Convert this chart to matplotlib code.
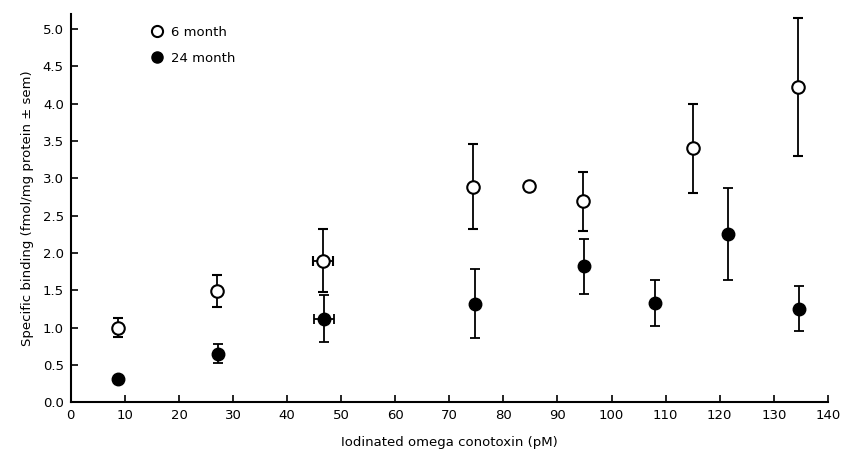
import numpy as np
import matplotlib
matplotlib.use("Agg")
import matplotlib.pyplot as plt
from matplotlib.lines import Line2D

# 6 month group
x_6 = [8.8, 27.0, 46.6, 74.3, 84.8, 94.7, 115.0, 134.4]
y_6 = [1.00, 1.49, 1.89, 2.89, 2.90, 2.70, 3.40, 4.22]
up_6 = [1.13, 1.71, 2.32, 3.46, 2.90, 3.09, 3.99, 5.15]
lo_6 = [0.87, 1.28, 1.47, 2.32, 2.90, 2.30, 2.80, 3.30]
xerr_6 = [0, 0, 1.9, 0, 0, 0, 0, 0]

# 24 month group
x_24 = [8.8, 27.3, 46.8, 74.8, 94.9, 108.0, 121.5, 134.7]
y_24 = [0.31, 0.65, 1.12, 1.31, 1.82, 1.33, 2.26, 1.25]
up_24 = [0.31, 0.78, 1.43, 1.78, 2.19, 1.64, 2.87, 1.56]
lo_24 = [0.31, 0.52, 0.80, 0.86, 1.45, 1.02, 1.64, 0.96]
xerr_24 = [0, 0, 1.9, 0, 0, 0, 0, 0]

x_ticks = np.arange(0, 141, 10)
y_ticks = np.arange(0, 5.01, 0.5)

plt.rcParams['font.family'] = ['DejaVu Sans']

fig = plt.figure(figsize=(8.43, 4.57), dpi=100)
ax = fig.add_axes([0.084, 0.120, 0.898, 0.849])

y6 = np.array(y_6)
y24 = np.array(y_24)
yerr6 = [y6 - np.array(lo_6), np.array(up_6) - y6]
yerr24 = [y24 - np.array(lo_24), np.array(up_24) - y24]

ax.errorbar(x_24, y_24, yerr=yerr24, xerr=xerr_24, fmt='o', color='black',
            mfc='black', mec='black', ms=9, ecolor='black', elinewidth=1.3,
            capsize=3.5, capthick=1.3, zorder=3)
ax.errorbar(x_6, y_6, yerr=yerr6, xerr=xerr_6, fmt='o', color='black',
            mfc='white', mec='black', mew=1.5, ms=9, ecolor='black', elinewidth=1.3,
            capsize=3.5, capthick=1.3, zorder=4)

ax.set_xlim(0, 140)
ax.set_ylim(0, 5.2)
ax.set_xticks(x_ticks)
ax.set_yticks(y_ticks)
ax.set_yticklabels([f'{v:.1f}' for v in y_ticks])

for s in ['top', 'right']:
    ax.spines[s].set_visible(False)
for s in ['left', 'bottom']:
    ax.spines[s].set_linewidth(1.5)

ax.tick_params(direction='in', length=5, width=1.2, labelsize=9.5, pad=5)

ax.set_xlabel('Iodinated omega conotoxin (pM)', fontsize=9.5, labelpad=10)
ax.set_ylabel('Specific binding (fmol/mg protein \u00b1 sem)', fontsize=9.5, labelpad=6)

handles = [
    Line2D([], [], ls='none', marker='o', mfc='white', mec='black', mew=1.5, ms=8),
    Line2D([], [], ls='none', marker='o', mfc='black', mec='black', ms=8),
]
ax.legend(handles, ['6 month', '24 month'], loc='upper left',
          bbox_to_anchor=(0.09, 1.0), frameon=False, fontsize=9.5,
          handletextpad=0.5, labelspacing=0.95, handlelength=1.0)

fig.savefig('out.png', dpi=100)
